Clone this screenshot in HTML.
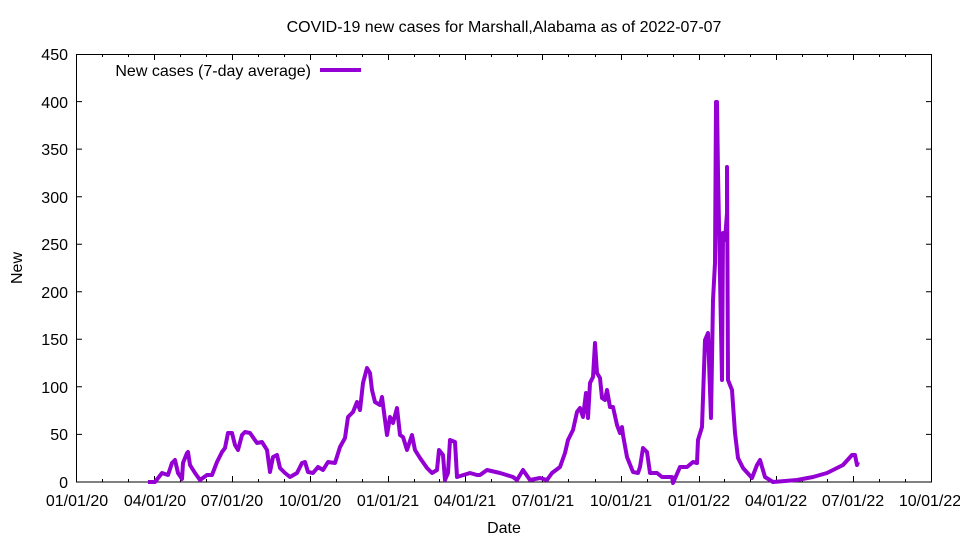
<!DOCTYPE html>
<html><head><meta charset="utf-8"><style>body{margin:0;background:#fff}svg{display:block}</style></head>
<body>
<svg width="960" height="540" xmlns="http://www.w3.org/2000/svg" font-family="Liberation Sans, sans-serif" font-size="16">
<rect width="960" height="540" fill="#fff"/>
<text x="504" y="32" text-anchor="middle">COVID-19 new cases for Marshall,Alabama as of 2022-07-07</text>
<g text-anchor="end">
<text x="68" y="488">0</text><text x="68" y="440">50</text><text x="68" y="393">100</text><text x="68" y="345">150</text><text x="68" y="298">200</text><text x="68" y="250">250</text><text x="68" y="203">300</text><text x="68" y="155">350</text><text x="68" y="108">400</text><text x="68" y="60">450</text>
</g>
<g text-anchor="middle">
<text x="77" y="506">01/01/20</text><text x="155" y="506">04/01/20</text><text x="232" y="506">07/01/20</text><text x="310" y="506">10/01/20</text><text x="388" y="506">01/01/21</text><text x="465" y="506">04/01/21</text><text x="543" y="506">07/01/21</text><text x="621" y="506">10/01/21</text><text x="699" y="506">01/01/22</text><text x="776" y="506">04/01/22</text><text x="853" y="506">07/01/22</text><text x="930" y="506">10/01/22</text>
<text x="504" y="533">Date</text>
</g>
<text transform="translate(22,268) rotate(-90)" text-anchor="middle">New</text>
<g stroke="#000" stroke-width="1" fill="none">
<rect x="76.5" y="54.5" width="855" height="427.5"/>
<path d="M76 434.4h6M932 434.4h-6M76 386.8h6M932 386.8h-6M76 339.3h6M932 339.3h-6M76 291.8h6M932 291.8h-6M76 244.2h6M932 244.2h-6M76 196.7h6M932 196.7h-6M76 149.1h6M932 149.1h-6M76 101.6h6M932 101.6h-6"/>
<path d="M154.5 482v-6M154.5 54v6M232.5 482v-6M232.5 54v6M310.5 482v-6M310.5 54v6M388.5 482v-6M388.5 54v6M465.5 482v-6M465.5 54v6M542.5 482v-6M542.5 54v6M621.5 482v-6M621.5 54v6M699.5 482v-6M699.5 54v6M776.5 482v-6M776.5 54v6M853.5 482v-6M853.5 54v6"/>
<path d="M102.5 482v-3M102.5 54v3M128.5 482v-3M128.5 54v3M180.5 482v-3M180.5 54v3M206.5 482v-3M206.5 54v3M258.5 482v-3M258.5 54v3M284.5 482v-3M284.5 54v3M336.5 482v-3M336.5 54v3M362.5 482v-3M362.5 54v3M414.5 482v-3M414.5 54v3M439.5 482v-3M439.5 54v3M491.5 482v-3M491.5 54v3M517.5 482v-3M517.5 54v3M568.5 482v-3M568.5 54v3M595.5 482v-3M595.5 54v3M647.5 482v-3M647.5 54v3M673.5 482v-3M673.5 54v3M724.5 482v-3M724.5 54v3M750.5 482v-3M750.5 54v3M802.5 482v-3M802.5 54v3M827.5 482v-3M827.5 54v3M879.5 482v-3M879.5 54v3M905.5 482v-3M905.5 54v3"/>
</g>
<text x="311" y="76" text-anchor="end">New cases (7-day average)</text>
<path d="M320 70h41" stroke="#9400d3" stroke-width="4"/>
<polyline fill="none" stroke="#9400d3" stroke-width="4" stroke-linejoin="round" points="148,482 155,482 162,473 168,475 172,463 175,460 178,473 182,479 183,463 187,453 188,452 190,465 195,473 200,480 207,475 212,475 217,462 222,452 225,448 228,433 232,433 235,445 238,450 242,435 245,432 250,433 257,443 262,442 267,450 270,472 273,457 277,455 280,468 285,473 290,477 297,473 302,463 305,462 308,472 313,473 318,467 323,470 328,462 335,463 340,447 345,438 348,417 353,412 357,402 360,410 363,383 367,368 370,373 372,390 375,402 380,405 382,397 385,420 387,435 390,417 393,423 397,408 400,435 403,437 407,450 412,435 415,450 420,458 427,468 432,473 437,470 439,450 443,455 445,480 448,473 450,440 455,442 457,477 470,473 477,475 480,475 487,470 500,473 513,477 517,480 523,470 530,480 540,478 547,480 552,473 560,467 565,453 568,440 573,430 577,412 580,408 583,417 586,393 588,418 590,383 593,377 595,343 597,373 600,378 602,398 605,400 607,390 610,407 613,407 617,425 620,433 622,427 623,435 627,457 633,472 638,473 640,467 643,448 647,452 650,473 657,473 662,477 672,477 673,483 680,467 687,467 693,462 697,463 698,440 702,427 705,340 708,333 711,418 713,300 715,263 716,102 717,102 718,173 722,380 723,233 725,240 727,213 727,167 728,380 732,390 735,433 738,458 743,468 752,478 757,465 760,460 765,477 773,482 797,480 813,477 827,473 833,470 843,465 852,455 855,455 857,465 858,462"/>
</svg>
</body></html>
